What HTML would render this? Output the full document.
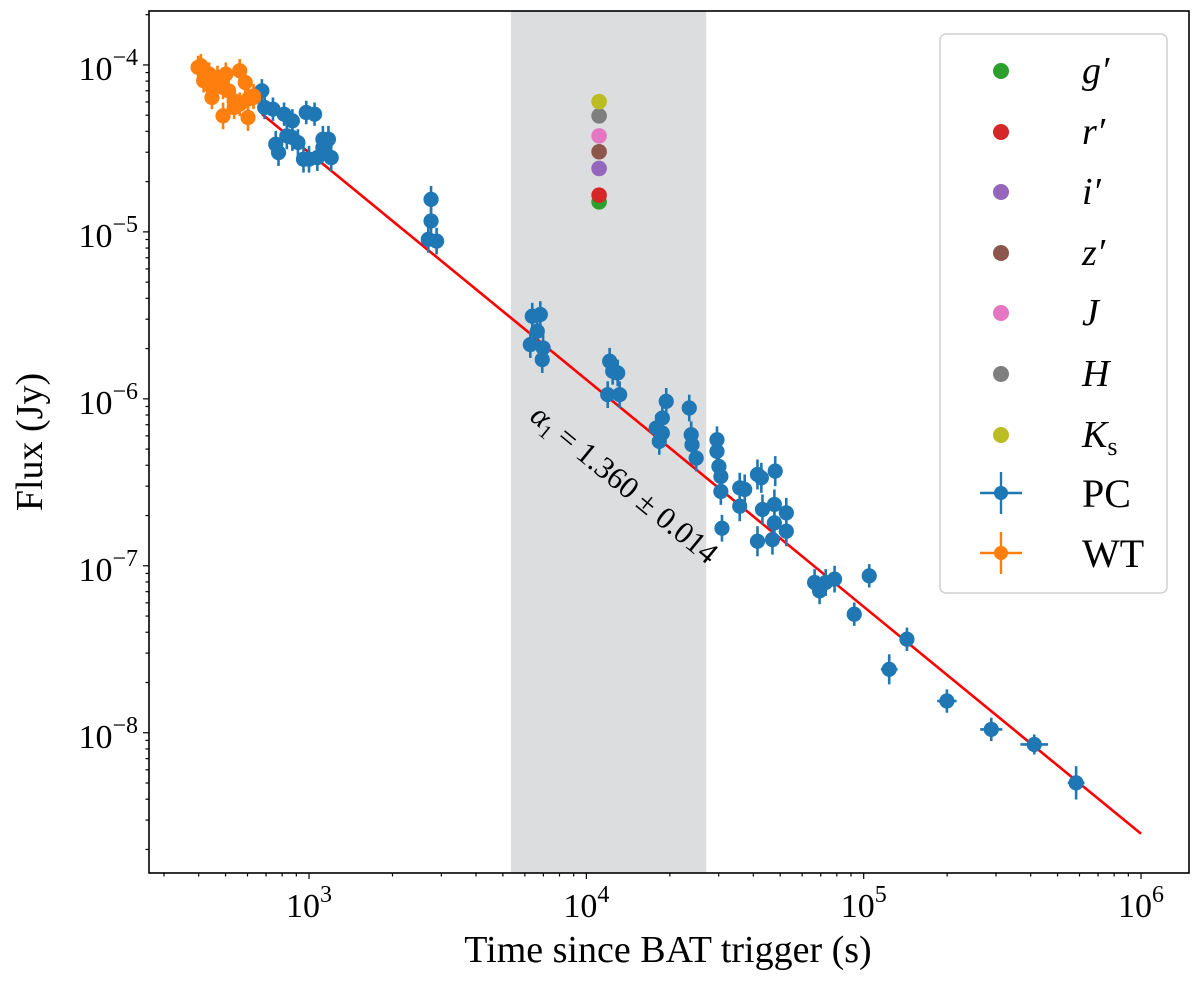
<!DOCTYPE html>
<html><head><meta charset="utf-8"><style>
html,body{margin:0;padding:0;background:#fff}
svg{display:block;font-family:"Liberation Serif",serif}
</style></head><body>
<svg id="chart" width="1200" height="982" viewBox="0 0 1200 982"></svg>
<script>
// ---- data (log10 of time in s, log10 of flux in Jy) ----
const wtLogT=[2.60,2.61,2.62,2.64,2.65,2.67,2.69,2.70,2.71,2.69,2.73,2.75,2.75,2.77,2.78,2.78,2.80,2.80,2.65,2.73];
const wtLogF=[-4.015,-4.005,-4.095,-4.055,-4.135,-4.075,-4.135,-4.055,-4.155,-4.305,-4.215,-4.235,-4.035,-4.105,-4.205,-4.315,-4.195,-4.185,-4.195,-4.255];
const wtYErr=[0.07,0.07,0.07,0.07,0.07,0.07,0.07,0.07,0.07,0.08,0.07,0.07,0.07,0.07,0.07,0.08,0.07,0.07,0.07,0.07];
const pcLogT=[2.83,2.84,2.87,2.91,2.94,2.99,3.02,2.88,2.89,2.92,2.94,2.96,2.98,3.00,3.03,3.05,3.07,3.08,3.05,3.44,3.44,3.43,3.46,
3.805,3.834,3.823,3.798,3.844,3.841,4.084,4.095,4.113,4.077,4.120,4.288,4.274,4.252,4.274,4.263,4.371,4.378,4.381,4.396,4.471,4.471,4.478,4.485,4.485,4.489,
4.553,4.571,4.553,4.617,4.631,4.681,4.635,4.678,4.721,4.721,4.617,4.671,4.678,
4.823,4.841,4.863,4.895,4.966,5.02,5.156,5.092,5.30,5.46,5.615,5.766];
const pcLogF=[-4.155,-4.255,-4.265,-4.295,-4.335,-4.285,-4.295,-4.475,-4.525,-4.425,-4.435,-4.465,-4.565,-4.565,-4.555,-4.445,-4.445,-4.555,-4.495,-4.805,-4.935,-5.045,-5.055,
-5.505,-5.495,-5.595,-5.675,-5.695,-5.765,-5.775,-5.835,-5.845,-5.975,-5.975,-6.015,-6.115,-6.175,-6.205,-6.255,-6.055,-6.215,-6.275,-6.355,-6.245,-6.315,-6.405,-6.465,-6.555,-6.775,
-6.533,-6.543,-6.643,-6.453,-6.473,-6.433,-6.663,-6.633,-6.683,-6.793,-6.853,-6.843,-6.743,
-7.10,-7.15,-7.10,-7.08,-7.29,-7.06,-7.44,-7.62,-7.81,-7.98,-8.07,-8.30];
const pcYErr=[0.07,0.07,0.07,0.07,0.07,0.07,0.07,0.08,0.08,0.08,0.08,0.08,0.08,0.08,0.08,0.08,0.08,0.08,0.08,0.08,0.08,0.08,0.08,
0.08,0.08,0.08,0.08,0.08,0.08,0.08,0.08,0.08,0.08,0.08,0.08,0.08,0.08,0.08,0.08,0.08,0.08,0.08,0.08,0.08,0.08,0.08,0.08,0.08,0.08,
0.09,0.09,0.09,0.09,0.09,0.09,0.09,0.09,0.09,0.09,0.09,0.09,0.09,
0.08,0.08,0.08,0.08,0.07,0.07,0.07,0.09,0.07,0.07,0.06,0.1];
const pcXErr=[0,0,0,0,0,0,0,0,0,0,0,0,0,0,0,0,0,0,0,0,0,0,0,
0,0,0,0,0,0,0,0,0,0,0,0,0,0,0,0,0,0,0,0,0,0,0,0,0,0,
0,0,0,0,0,0,0,0,0,0,0,0,0,
0.01,0.01,0.01,0.01,0.015,0.02,0.025,0.03,0.035,0.04,0.05,0.03];
const optBands=["g","r","i","z","J","H","Ks"];
const optColors=["#2ca02c","#d62728","#9467bd","#8c564b","#e377c2","#7f7f7f","#bcbd22"];
const optLogT=[4.046,4.046,4.046,4.046,4.046,4.046,4.046];
const optLogF=[-4.82,-4.78,-4.62,-4.52,-4.425,-4.305,-4.22];
const fitAlpha=1.360;
const fitLogT0=6.0, fitLogF0=-8.605, fitStart=2.83;
const shadeRange=[3.728,4.432];
const xTickExp=[3,4,5,6];
const yTickExp=[-4,-5,-6,-7,-8];

// ---- axes ----
const L=149,R=1189,T=11,B=873;
const xMin=2.423,xMax=6.173,yMin=-8.84,yMax=-3.677;
const X=v=>L+(v-xMin)/(xMax-xMin)*(R-L);
const Y=v=>B-(v-yMin)/(yMax-yMin)*(B-T);
const svg=document.getElementById('chart');
const NS='http://www.w3.org/2000/svg';
function mk(tag,attrs,parent){const e=document.createElementNS(NS,tag);for(const k in attrs)e.setAttribute(k,attrs[k]);(parent||svg).appendChild(e);return e;}

let sh=mk('rect',{x:X(shadeRange[0]),y:T,width:X(shadeRange[1])-X(shadeRange[0]),height:B-T,fill:'#dcdddf'});



let fl=mk('line',{x1:X(fitStart),y1:Y(fitLogF0+fitAlpha*(fitLogT0-fitStart)),x2:X(fitLogT0),y2:Y(fitLogF0),stroke:'#ff0000','stroke-width':2.6});



function series(lt,lf,ye,xe,col,name){
  const g=mk('g',{});
  
  
  for(let i=0;i<lt.length;i++){
    const cx=X(lt[i]),cy=Y(lf[i]);
    mk('line',{x1:cx,x2:cx,y1:Y(lf[i]+ye[i]),y2:Y(lf[i]-ye[i]),stroke:col,'stroke-width':2.6},g);
    if(xe&&xe[i]>0)mk('line',{x1:X(lt[i]-xe[i]),x2:X(lt[i]+xe[i]),y1:cy,y2:cy,stroke:col,'stroke-width':2.6},g);
    const c=mk('circle',{cx:cx,cy:cy,r:7.6,fill:col},g);
    
    
  }
}
series(pcLogT,pcLogF,pcYErr,pcXErr,'#1f77b4','pc-series');
series(wtLogT,wtLogF,wtYErr,null,'#ff7f0e','wt-series');
for(let i=0;i<optBands.length;i++){
  const c=mk('circle',{cx:X(optLogT[i]),cy:Y(optLogF[i]),r:7.8,fill:optColors[i]});
  
  
}

let fr=mk('rect',{x:L,y:T,width:R-L,height:B-T,fill:'none',stroke:'#000','stroke-width':1.6});



for(let d=2;d<=6;d++)for(let m=1;m<10;m++){
  const v=d+Math.log10(m);if(v<xMin||v>xMax)continue;
  mk('line',{x1:X(v),x2:X(v),y1:B,y2:B+(m===1?6:3.5),stroke:'#000','stroke-width':1.2});
}
for(let d=-9;d<=-4;d++)for(let m=1;m<10;m++){
  const v=d+Math.log10(m);if(v<yMin||v>yMax)continue;
  mk('line',{x1:L,x2:L-(m===1?6:3.5),y1:Y(v),y2:Y(v),stroke:'#000','stroke-width':1.2});
}
xTickExp.forEach(e=>{
  const t=mk('text',{x:X(e),y:917,'text-anchor':'middle','font-size':34});
  
  
  t.innerHTML='10<tspan dy="-15" font-size="24">'+e+'</tspan>';
});
yTickExp.forEach(e=>{
  const t=mk('text',{x:138,y:Y(e)+15,'text-anchor':'end','font-size':34});
  
  
  t.innerHTML='10<tspan dy="-15" font-size="24">\u2212'+(-e)+'</tspan>';
});
let xt=mk('text',{x:668,y:962,'text-anchor':'middle','font-size':38});


xt.textContent='Time since BAT trigger (s)';
let yt=mk('text',{x:0,y:0,'text-anchor':'middle','font-size':38,transform:'translate(42,442) rotate(-90)'});


yt.textContent='Flux (Jy)';

let an=mk('text',{x:0,y:0,'text-anchor':'middle','font-size':31,transform:'translate(618,492) rotate(39.3)'});


an.innerHTML='<tspan font-style="italic">α</tspan><tspan font-size="20" dy="6">1</tspan><tspan dy="-6"> = 1.360 ± 0.014</tspan>';

const lg=mk('g',{});


mk('rect',{x:940,y:34,width:227,height:559,rx:6,fill:'#fff','fill-opacity':0.85,stroke:'#d0d0d0','stroke-width':1.5},lg);
const legLabels=['g′','r′','i′','z′','J','H','K'];
const legY=[71,132,192,253,313,374,435];
for(let i=0;i<7;i++){
  mk('circle',{cx:1001,cy:legY[i],r:8,fill:optColors[i]},lg);
  const t=mk('text',{x:1082,y:legY[i]+12,'font-size':38,'font-style':'italic'},lg);
  
  
  t.innerHTML=legLabels[i]+(i===6?'<tspan font-style="normal" font-size="26" dy="8">s</tspan>':'');
}
[['PC','#1f77b4',493],['WT','#ff7f0e',553]].forEach(([lab,col,y])=>{
  mk('line',{x1:980,x2:1022,y1:y,y2:y,stroke:col,'stroke-width':2.4},lg);
  mk('line',{x1:1001,x2:1001,y1:y-21,y2:y+21,stroke:col,'stroke-width':2.4},lg);
  mk('circle',{cx:1001,cy:y,r:7,fill:col},lg);
  const t=mk('text',{x:1082,y:y+14,'font-size':40},lg);
  
  
  t.textContent=lab;
});
</script>
</body></html>
